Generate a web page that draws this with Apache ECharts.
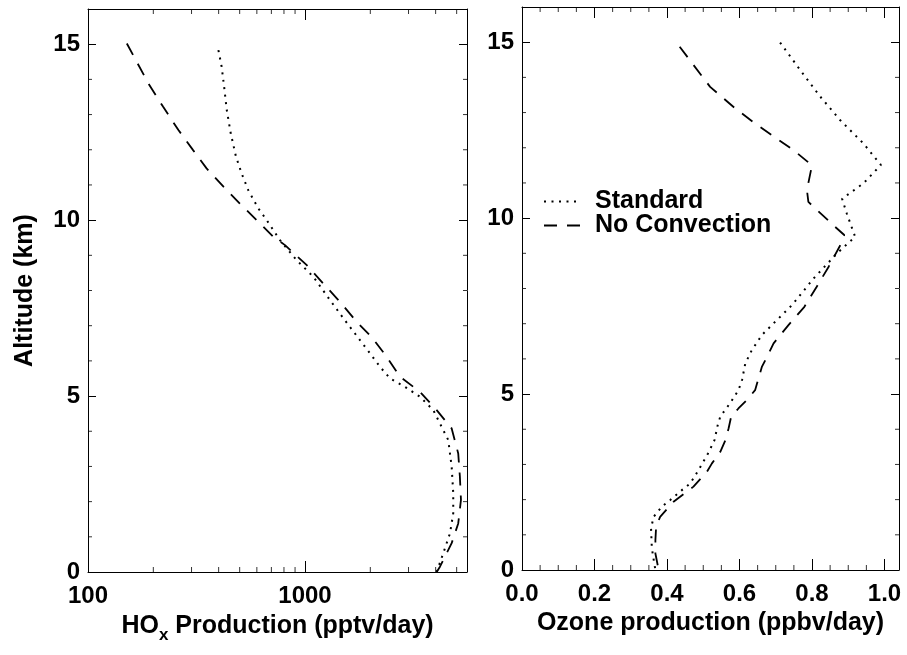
<!DOCTYPE html>
<html><head><meta charset="utf-8">
<script src="https://cdn.jsdelivr.net/npm/echarts@6/dist/echarts.min.js"></script>
<style>html,body{margin:0;padding:0;background:#fff}#c{width:907px;height:655px}</style>
</head><body><div id="c"></div>
<script>
// ---- data (altitude in km) ----
const seriesNames = ['Standard', 'No Convection'];

const altHoxStd = [14.83,14.36,13.79,13.13,12.46,11.80,11.32,10.85,10.33,10.00,9.43,8.86,8.39,7.73,7.21,6.59,6.21,5.83,5.50,5.26,4.98,4.60,4.22,3.75,2.99,2.24,1.67,1.10,0.53,0.00];
const hoxStd    = [399,413,424,436,455,481,511,548,610,666,767,916,1093,1303,1503,1792,1995,2218,2466,2891,3388,3902,4188,4574,4742,4822,4822,4660,4335,4045];

const altHoxNoConv = [15.02,13.88,13.22,12.56,11.99,11.47,10.95,10.47,10.00,9.53,9.29,8.72,8.20,7.68,7.11,6.68,6.12,5.55,5.12,4.60,4.08,3.37,2.71,2.05,1.38,0.82,0.15,0.00];
const hoxNoConv    = [151,190,222,261,305,352,421,501,599,714,809,1019,1213,1449,1730,2028,2377,2740,3388,4045,4742,5084,5174,5234,5084,4742,4188,4045];

const altO3Std = [14.99,14.20,13.45,12.78,12.12,11.51,10.99,10.55,10.13,9.47,9.00,8.28,7.53,7.01,6.68,6.25,5.87,5.40,5.11,4.74,4.36,4.12,3.69,3.31,2.84,2.46,2.27,1.99,1.80,1.51,1.18,0.66,0.43,0.00];
const o3Std    = [0.712,0.768,0.823,0.878,0.942,0.990,0.942,0.883,0.896,0.919,0.869,0.804,0.745,0.694,0.662,0.634,0.616,0.607,0.597,0.574,0.547,0.540,0.531,0.513,0.487,0.464,0.441,0.409,0.386,0.363,0.356,0.358,0.361,0.368];

const altO3NoConv = [14.87,13.73,13.12,12.69,11.93,11.50,10.80,10.46,9.75,9.52,9.23,8.62,8.05,7.48,6.96,6.44,6.06,5.78,5.11,4.83,4.59,4.36,4.03,3.69,3.36,3.03,2.79,2.37,1.94,1.51,1.23,0.85,0.47,0.00];
const o3NoConv    = [0.435,0.519,0.588,0.643,0.749,0.800,0.786,0.790,0.864,0.889,0.878,0.846,0.813,0.779,0.735,0.694,0.676,0.662,0.643,0.620,0.597,0.577,0.570,0.561,0.547,0.524,0.510,0.473,0.418,0.381,0.370,0.368,0.368,0.377];

// ---- axis ranges and tick values ----
const hoxRange = [100, 5580];
const o3Range = [0, 1.04];
const altRange = [0, 16];
const altMajorInterval = 5;
const o3MajorInterval = 0.2;
const hoxMinorTicks = [200,300,400,500,600,700,800,900,2000,3000,4000,5000];
const o3MinorTicks = [0.05,0.1,0.15,0.25,0.3,0.35,0.45,0.5,0.55,0.65,0.7,0.75,0.85,0.9,0.95];
const altMinorTicks = [1,2,3,4,6,7,8,9,11,12,13,14];

const FONT = '"Liberation Sans", Arial, Helvetica, sans-serif';
const lbl = {fontFamily: FONT, fontWeight: 'bold', fontSize: 24, color: '#000'};
const lineAxis = {show: true, lineStyle: {color: '#000', width: 1}};
const pairs = (xs, ys) => xs.map((x, i) => [x, ys[i]]);

function xAxisDef(grid, type, range, pos, showLabel, extra) {
  return Object.assign({
    gridIndex: grid, type: type, position: pos, min: range[0], max: range[1],
    axisLine: Object.assign({onZero: false}, lineAxis),
    axisTick: {show: true, inside: true, length: 11, lineStyle: {color: '#000', width: 1}},
    axisLabel: Object.assign({show: showLabel, margin: 12, showMaxLabel: false, showMinLabel: true}, lbl),
    splitLine: {show: false}, minorTick: {show: false}
  }, extra || {});
}
function yAxisDef(grid, pos, showLabel, extra) {
  return Object.assign({
    gridIndex: grid, type: 'value', position: pos, min: altRange[0], max: altRange[1], interval: altMajorInterval,
    axisLine: Object.assign({onZero: false}, lineAxis),
    axisTick: {show: true, inside: true, length: 8, lineStyle: {color: '#000', width: 1}},
    axisLabel: Object.assign({show: showLabel, margin: 8, showMaxLabel: false}, lbl),
    splitLine: {show: false}
  }, extra || {});
}
function tickSeries(xi, yi, data, size, off) {
  return {type: 'scatter', xAxisIndex: xi, yAxisIndex: yi, data: data, symbol: 'rect',
    symbolSize: size, symbolOffset: off, itemStyle: {color: '#000'}, silent: true, clip: false,
    animation: false, z: 5, legendHoverLink: false, emphasis: {disabled: true}};
}
const dotted = {color: '#000', width: 2, type: [2, 5.5], cap: 'butt'};
const dashed = {color: '#000', width: 1.8, type: [13, 10], cap: 'butt'};
function lineSeries(name, xi, yi, data, style) {
  return {type: 'line', name: name, xAxisIndex: xi, yAxisIndex: yi, data: data, showSymbol: false,
    symbol: 'none', lineStyle: style, itemStyle: {color: '#000'}, animation: false, silent: true, z: 3};
}

const chart = echarts.init(document.getElementById('c'), null, {renderer: 'canvas'});
const option = {
  backgroundColor: '#fff',
  animation: false,
  grid: [
    {left: 88, top: 9, width: 379, height: 563},
    {left: 522, top: 7, width: 377, height: 563}
  ],
  xAxis: [
    xAxisDef(0, 'log', hoxRange, 'bottom', true, {
      logBase: 10,
      axisLabel: Object.assign({show: true, margin: 12, showMaxLabel: false, formatter: v => String(Math.round(v))}, lbl),
      name: '{a|HO}{s|x}{a| Production (pptv/day)}', nameLocation: 'middle', nameGap: 36,
      nameTextStyle: {rich: {
        a: {fontFamily: FONT, fontWeight: 'bold', fontSize: 25, color: '#000', lineHeight: 36},
        s: {fontFamily: FONT, fontWeight: 'bold', fontSize: 17, color: '#000', lineHeight: 17, verticalAlign: 'bottom'}
      }}
    }),
    xAxisDef(0, 'log', hoxRange, 'top', false, {logBase: 10}),
    xAxisDef(1, 'value', o3Range, 'bottom', true, {
      interval: o3MajorInterval,
      axisLabel: Object.assign({show: true, margin: 12, showMaxLabel: false, formatter: v => v.toFixed(1)}, lbl),
      name: 'Ozone production (ppbv/day)', nameLocation: 'middle', nameGap: 38,
      nameTextStyle: {fontFamily: FONT, fontWeight: 'bold', fontSize: 25, color: '#000'}
    }),
    xAxisDef(1, 'value', o3Range, 'top', false, {interval: o3MajorInterval})
  ],
  yAxis: [
    yAxisDef(0, 'left', true, {
      name: 'Altitude (km)', nameLocation: 'middle', nameGap: 50,
      nameTextStyle: {fontFamily: FONT, fontWeight: 'bold', fontSize: 25, color: '#000'}
    }),
    yAxisDef(0, 'right', false),
    yAxisDef(1, 'left', true),
    yAxisDef(1, 'right', false)
  ],
  legend: {
    data: seriesNames, orient: 'vertical', left: 538, top: 184,
    itemWidth: 37, itemHeight: 14, itemGap: -1, selectedMode: false,
    itemStyle: {opacity: 0},
    textStyle: {fontFamily: FONT, fontWeight: 'bold', fontSize: 25, color: '#000', lineHeight: 24, padding: [0, 0, 0, 9]}
  },
  series: [
    lineSeries(seriesNames[0], 0, 0, pairs(hoxStd, altHoxStd), dotted),
    lineSeries(seriesNames[1], 0, 0, pairs(hoxNoConv, altHoxNoConv), dashed),
    lineSeries(seriesNames[0], 2, 2, pairs(o3Std, altO3Std), dotted),
    lineSeries(seriesNames[1], 2, 2, pairs(o3NoConv, altO3NoConv), dashed),
    // minor ticks, placed through the axes' scales
    tickSeries(0, 0, hoxMinorTicks.map(v => [v, altRange[0]]), [1, 5], [0, -2.5]),
    tickSeries(0, 0, hoxMinorTicks.map(v => [v, altRange[1]]), [1, 5], [0, 2.5]),
    tickSeries(0, 0, altMinorTicks.map(a => [hoxRange[0], a]), [4, 1], [2, 0]),
    tickSeries(0, 0, altMinorTicks.map(a => [hoxRange[1], a]), [4, 1], [-2, 0]),
    tickSeries(2, 2, o3MinorTicks.map(v => [v, altRange[0]]), [1, 5], [0, -2.5]),
    tickSeries(2, 2, o3MinorTicks.map(v => [v, altRange[1]]), [1, 5], [0, 2.5]),
    tickSeries(2, 2, altMinorTicks.map(a => [o3Range[0], a]), [4, 1], [2, 0]),
    tickSeries(2, 2, altMinorTicks.map(a => [o3Range[1], a]), [4, 1], [-2, 0])
  ]
};
chart.setOption(option);
</script></body></html>
